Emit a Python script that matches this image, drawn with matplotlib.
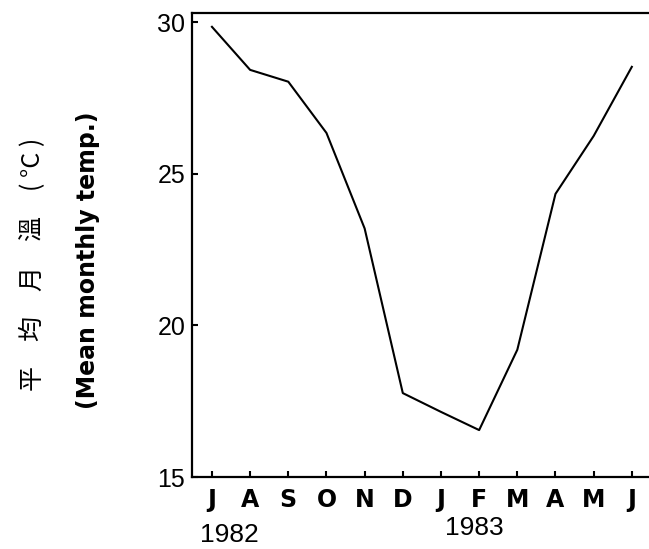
import numpy as np
import matplotlib.pyplot as plt

# mean monthly temperature, Jul 1982 - Jun 1983
months = ['J', 'A', 'S', 'O', 'N', 'D', 'J', 'F', 'M', 'A', 'M', 'J']
temps = [29.85, 28.43, 28.04, 26.35, 23.2, 17.77, 17.15, 16.55, 19.2, 24.34, 26.25, 28.53]
yticks = [15, 20, 25, 30]
years = ['1982', '1983']

fig = plt.figure(figsize=(6.49, 5.49), dpi=100)
ax = fig.add_axes([0.296, 0.131, 0.704, 0.845])

x = np.arange(len(months))
ax.plot(x, temps, color='k', lw=1.5)

ax.set_xlim(-0.52, 11.45)
ax.set_ylim(15, 30.3)
ax.set_xticks(x)
ax.set_xticklabels(months, fontfamily='DejaVu Sans', fontweight='bold', fontsize=17)
ax.set_yticks(yticks)
ax.set_yticklabels([str(v) for v in yticks], fontfamily='Liberation Sans', fontsize=18)
ax.tick_params(axis='x', direction='in', length=4, width=1.5, pad=8)
ax.tick_params(axis='y', direction='in', length=4, width=1.5, pad=5)

ax.spines['right'].set_visible(False)
for s in ['left', 'bottom', 'top']:
    ax.spines[s].set_linewidth(1.6)

# years under the month axis
fig.text(229 / 649, 1 - 535 / 549, years[0], ha='center', va='center',
         fontfamily='Liberation Sans', fontsize=19)
fig.text(474 / 649, 1 - 528 / 549, years[1], ha='center', va='center',
         fontfamily='Liberation Sans', fontsize=19)

# y axis labels
fig.text(33 / 649, 1 - 264 / 549, '平\u3000均\u3000月\u3000溫\u3000( °C )', rotation=90,
         ha='center', va='center', fontsize=18,
         family=['Noto Sans CJK TC', 'DejaVu Sans'])
fig.text(88 / 649, 1 - 260 / 549, '(Mean monthly temp.)', rotation=90,
         ha='center', va='center', fontsize=17, fontfamily='DejaVu Sans', fontweight='bold')

fig.savefig('out.png', dpi=100)
